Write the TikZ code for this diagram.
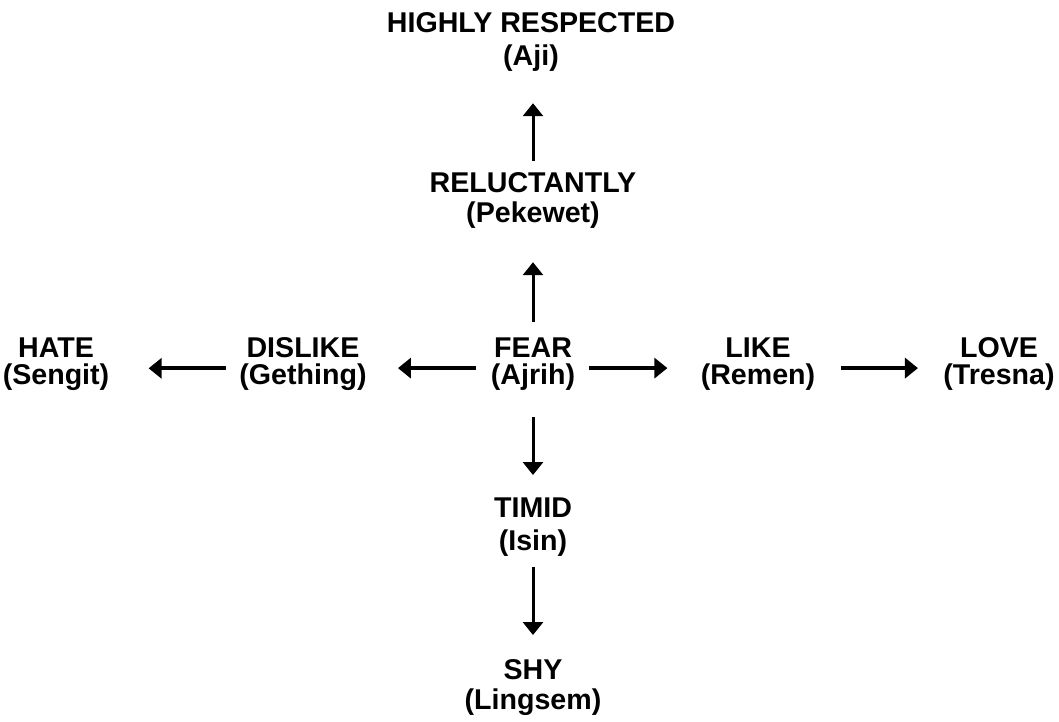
\documentclass[tikz,border=0pt]{standalone}
\usepackage{fontspec}
\setmainfont{Liberation Sans}
\usetikzlibrary{arrows.meta}
\newcommand\lblfont[1]{\bfseries\fontsize{14.3}{#1}\selectfont}
\begin{document}
\begin{tikzpicture}[x=0.5pt,y=-0.5pt,
  lab/.style={align=center, inner sep=0pt, anchor=north},
  harr/.style={line width=2pt, -{Triangle[length=6.5pt,width=10pt]}},
  varr/.style={line width=1.5pt, -{Triangle[length=6.5pt,width=10pt]}}]
\useasboundingbox (0,0) rectangle (1059,722);
% column
\node[lab, font=\lblfont{16.5pt}] (aji) at (531,12) {HIGHLY RESPECTED\\(Aji)};
\node[lab, font=\lblfont{15pt}] (reluc) at (533,172) {RELUCTANTLY\\(Pekewet)};
\node[lab, font=\lblfont{13.5pt}] (fear) at (533,337) {FEAR\\(Ajrih)};
\node[lab, font=\lblfont{16.5pt}] (timid) at (533,497) {TIMID\\(Isin)};
\node[lab, font=\lblfont{15pt}] (shy) at (533,659) {SHY\\(Lingsem)};
% row
\node[lab, font=\lblfont{13.5pt}] (hate) at (56,337) {HATE\\(Sengit)};
\node[lab, font=\lblfont{13.5pt}] (dislike) at (303,337) {DISLIKE\\(Gething)};
\node[lab, font=\lblfont{13.5pt}] (like) at (758,337) {LIKE\\(Remen)};
\node[lab, font=\lblfont{13.5pt}] (love) at (999,337) {LOVE\\(Tresna)};
% vertical arrows
\draw[varr, shorten <=5.5pt, shorten >=15.75pt] (reluc.north) -- (reluc.north |- aji.south);
\draw[varr, shorten <=7.5pt, shorten >=16.75pt] (fear.north) -- (reluc.south);
\draw[varr, shorten <=13.25pt, shorten >=11pt] (fear.south) -- (timid.north);
\draw[varr, shorten <=5.25pt, shorten >=12pt] (timid.south) -- (shy.north);
% horizontal arrows
\draw[harr, shorten <=7.5pt, shorten >=15.5pt] ([yshift=-2.2pt]fear.west) -- ([yshift=-2.2pt]fear.west -| dislike.east);
\draw[harr, shorten <=6.5pt, shorten >=19.5pt] ([yshift=-2.2pt]dislike.west) -- ([yshift=-2.2pt]dislike.west -| hate.east);
\draw[harr, shorten <=6.5pt, shorten >=16.5pt] ([yshift=-2.2pt]fear.east) -- ([yshift=-2.2pt]fear.east -| like.west);
\draw[harr, shorten <=12.5pt, shorten >=12.5pt] ([yshift=-2.2pt]like.east) -- ([yshift=-2.2pt]like.east -| love.west);
\end{tikzpicture}
\end{document}
